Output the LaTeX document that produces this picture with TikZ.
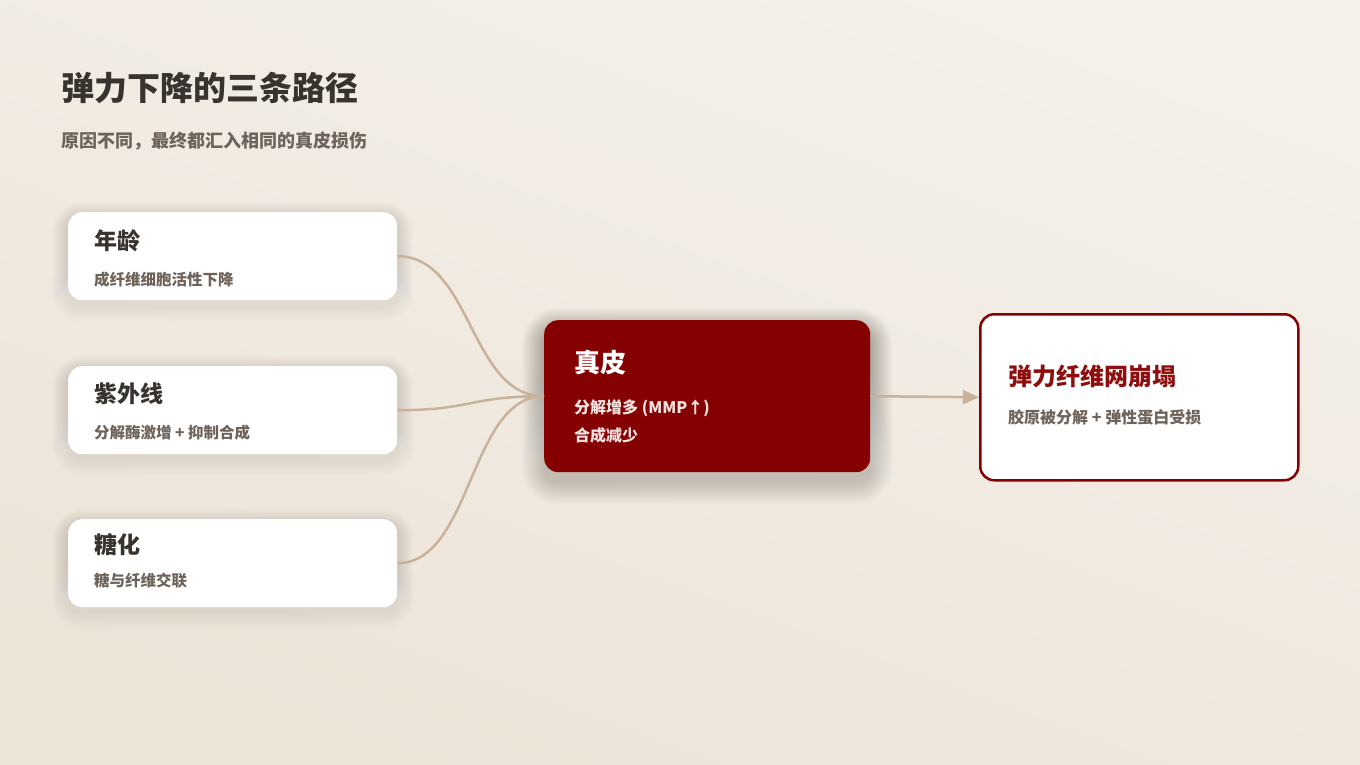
\documentclass[tikz,border=0pt]{standalone}
\usepackage{fontspec}
\setmainfont{Noto Sans CJK SC}
\usetikzlibrary{positioning,arrows.meta,calc,backgrounds}
\definecolor{bgtop}{HTML}{F4F0EA}
\definecolor{bgbot}{HTML}{EDE4D8}
\definecolor{ink}{HTML}{38332F}
\definecolor{mute}{HTML}{6E635A}
\definecolor{wine}{HTML}{850000}
\definecolor{winetxt}{HTML}{8E0E0E}
\definecolor{pale}{HTML}{F6E2E0}
\definecolor{tan}{HTML}{C8B29A}
\definecolor{shade}{HTML}{7A5038}

\begin{document}
\begin{tikzpicture}[x=1pt,y=-1pt,
  txt/.style={inner sep=0pt,anchor=west,font=\bfseries},
  card/.style={fill=white,rounded corners=14pt,minimum width=329pt,minimum height=88pt,
    anchor=north west,inner sep=0pt},
  link/.style={draw=tan,line width=2.5pt}]

  % heading
  \node[txt,text=ink,font=\fontsize{33}{36}\selectfont\bfseries] (T) at (61,88) {弹力下降的三条路径};
  \node[txt,text=mute,font=\fontsize{18}{20}\selectfont\bfseries] (S) at (61,141) {原因不同，最终都汇入相同的真皮损伤};

  % three causes
  \node[card] (A) at (68,212) {};
  \node[card] (U) at (68,366) {};
  \node[card] (G) at (68,519) {};

  \node[txt,text=ink,font=\fontsize{23}{26}\selectfont\bfseries] (At) at (94,241) {年龄};
  \node[txt,text=mute,font=\fontsize{15.5}{18}\selectfont\bfseries] (As) at (94,280) {成纤维细胞活性下降};
  \node[txt,text=ink,font=\fontsize{23}{26}\selectfont\bfseries] (Ut) at (94,394) {紫外线};
  \node[txt,text=mute,font=\fontsize{15.5}{18}\selectfont\bfseries] (Us) at (94,433) {分解酶激增 + 抑制合成};
  \node[txt,text=ink,font=\fontsize{23}{26}\selectfont\bfseries] (Gt) at (94,545) {糖化};
  \node[txt,text=mute,font=\fontsize{15.5}{18}\selectfont\bfseries] (Gs) at (94,581) {糖与纤维交联};

  % dermis
  \node[card,fill=wine,minimum width=326pt,minimum height=152pt] (D) at (544,320) {};
  \node[txt,text=white,font=\fontsize{26}{30}\selectfont\bfseries] (Dt) at (574,363) {真皮};
  \node[txt,text=pale,font=\fontsize{16}{19}\selectfont\bfseries] (Ds1) at (574,408) {分解增多 (MMP↑)};
  \node[txt,text=pale,font=\fontsize{16}{19}\selectfont\bfseries] (Ds2) at (574,435) {合成减少};

  % result
  \node[card,draw=wine,line width=2.5pt,minimum width=318pt,minimum height=166pt] (R) at (979,313) {};
  \node[txt,text=winetxt,font=\fontsize{24}{28}\selectfont\bfseries] (Rt) at (1008,376) {弹力纤维网崩塌};
  \node[txt,text=mute,font=\fontsize{16}{19}\selectfont\bfseries] (Rs) at (1008,417) {胶原被分解 + 弹性蛋白受损};

  % connectors
  \draw[link] (A.east) .. controls +(75,0) and +(-75,0) .. (D.west);
  \draw[link] (U.east) .. controls +(75,0) and +(-75,0) .. (D.west);
  \draw[link] (G.east) .. controls +(75,0) and +(-75,0) .. (D.west);
  \draw[link,-{Triangle[length=16pt,width=14pt]}] (D.east) -- (R.west);

  % page and soft shadows
  \begin{scope}[on background layer]
    \shade[top color=bgtop,bottom color=bgbot,shading angle=-20] (0,0) rectangle (1360,765);
    \foreach \n in {A,U,G}
      \foreach \i in {1,...,16}
        \fill[shade,opacity=0.005,rounded corners=14pt+\i pt]
          ($(\n.north west)+(-\i,-\i+6)$) rectangle ($(\n.south east)+(\i,\i+6)$);
    \foreach \i in {1,...,22}
      \fill[shade,opacity=0.007,rounded corners=14pt+\i pt]
        ($(D.north west)+(-\i,-\i+10)$) rectangle ($(D.south east)+(\i,\i+10)$);
  \end{scope}
  \useasboundingbox (0,0) rectangle (1360,765);
\end{tikzpicture}
\end{document}
